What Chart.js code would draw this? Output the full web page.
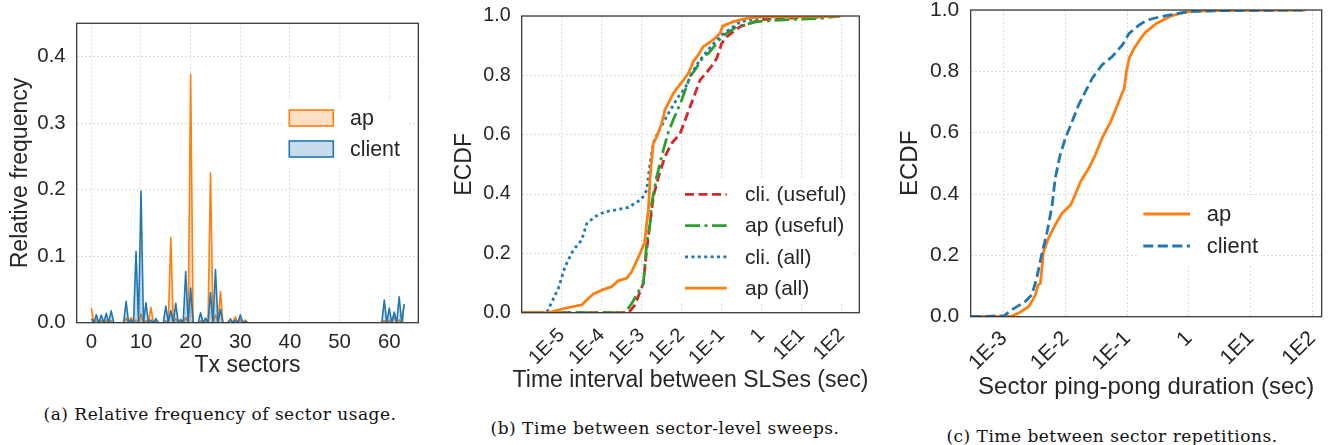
<!DOCTYPE html>
<html>
<head>
<meta charset="utf-8">
<title>Sector sweeps</title>
<script src="https://cdn.jsdelivr.net/npm/chart.js@4.4.1/dist/chart.umd.min.js"></script>
<style>
  html, body { margin: 0; padding: 0; background: #fff; }
  body { position: relative; width: 1331px; height: 445px; overflow: hidden; }
  canvas { position: absolute; top: 0; }
  .caption {
    position: absolute; width: 520px; text-align: center; white-space: nowrap;
    font-family: "DejaVu Serif", serif; font-size: 17px; letter-spacing: 0.5px;
    line-height: 20px; color: #111;
  }
</style>
</head>
<body>
<canvas id="usage" width="430" height="380" style="left:0"></canvas>
<canvas id="sweeps" width="440" height="400" style="left:440px"></canvas>
<canvas id="pingpong" width="441" height="410" style="left:890px"></canvas>
<div class="caption" style="left:-40px; top:404px">(a) Relative frequency of sector usage.</div>
<div class="caption" style="left:405px; top:418px">(b) Time between sector-level sweeps.</div>
<div class="caption" style="left:852px; top:426px">(c) Time between sector repetitions.</div>

<script>
// ---- (a) sector usage: relative frequency per half-sector bin, sectors 0..63
const binWidth = 0.5;
const sectorTicks = [0, 10, 20, 30, 40, 50, 60];
const freqTicks = [0, 0.1, 0.2, 0.3, 0.4];
const apFreq = [
  0.022, 0, 0.005, 0, 0.003, 0, 0.004, 0, 0.003, 0, 0, 0, 0, 0, 0.007, 0,
  0.008, 0, 0.004, 0, 0.013, 0, 0.003, 0, 0.023, 0, 0.003, 0, 0, 0, 0.003, 0,
  0.128, 0, 0.006, 0, 0.004, 0, 0.008, 0, 0.373, 0, 0, 0, 0.003, 0, 0.004, 0,
  0.225, 0, 0.012, 0, 0.047, 0, 0, 0, 0.006, 0, 0.009, 0, 0.005, 0, 0.004, 0,
  0, 0, 0, 0, 0, 0, 0, 0, 0, 0, 0, 0, 0, 0, 0, 0,
  0, 0, 0, 0, 0, 0, 0, 0, 0, 0, 0, 0, 0, 0, 0, 0,
  0, 0, 0, 0, 0, 0, 0, 0, 0, 0, 0, 0, 0, 0, 0, 0,
  0, 0, 0, 0, 0, 0, 0.003, 0, 0.004, 0, 0.009, 0, 0.004, 0, 0.026
];
const clientFreq = [
  0.006, 0, 0.012, 0, 0.011, 0, 0.014, 0, 0.018, 0, 0, 0, 0, 0, 0.032, 0,
  0.004, 0, 0.107, 0, 0.198, 0, 0.030, 0, 0.004, 0, 0.006, 0, 0, 0, 0.025, 0,
  0.018, 0, 0.029, 0, 0.005, 0, 0.077, 0, 0.052, 0, 0, 0, 0.015, 0, 0.007, 0,
  0.045, 0, 0.080, 0, 0.020, 0, 0, 0, 0.005, 0, 0.004, 0, 0.012, 0, 0.002, 0,
  0, 0, 0, 0, 0, 0, 0, 0, 0, 0, 0, 0, 0, 0, 0, 0,
  0, 0, 0, 0, 0, 0, 0, 0, 0, 0, 0, 0, 0, 0, 0, 0,
  0, 0, 0, 0, 0, 0, 0, 0, 0, 0, 0, 0, 0, 0, 0, 0,
  0, 0, 0, 0, 0, 0, 0.034, 0, 0.022, 0, 0.016, 0, 0.039, 0, 0.028
];

// ---- (b) ECDF of time between SLSes (seconds)
const slsTicks = [1e-5, 1e-4, 1e-3, 1e-2, 1e-1, 1, 1e1, 1e2];
const slsTickLabels = ['1E-5', '1E-4', '1E-3', '1E-2', '1E-1', '1', '1E1', '1E2'];
const ecdfTicks = [0, 0.2, 0.4, 0.6, 0.8, 1.0];

const cliUsefulT = [1e-6, 4.68e-4, 6.76e-4, 1.1e-3, 1.33e-3, 1.62e-3, 1.95e-3, 2.63e-3, 3.8e-3, 5.62e-3,
  9.12e-3, 1.62e-2, 2.88e-2, 5.13e-2, 7.5e-2, 0.1, 0.133, 0.288, 0.912, 3.47, 91];
const cliUsefulF = [0, 0, 0.026, 0.099, 0.211, 0.301, 0.391, 0.458, 0.526, 0.571,
  0.604, 0.694, 0.784, 0.824, 0.857, 0.908, 0.930, 0.964, 0.987, 0.992, 1.0];

const apUsefulT = [1e-6, 3.8e-4, 5.62e-4, 1.1e-3, 1.33e-3, 1.62e-3, 1.78e-3, 2.37e-3, 3.47e-3, 4.68e-3,
  6.17e-3, 1e-2, 1.62e-2, 2.15e-2, 3.47e-2, 4.65e-2, 7.5e-2, 0.1, 0.237, 0.75, 3.47, 28.8, 91];
const apUsefulF = [0, 0, 0.031, 0.099, 0.234, 0.301, 0.369, 0.458, 0.548, 0.610,
  0.650, 0.717, 0.796, 0.818, 0.863, 0.874, 0.908, 0.930, 0.964, 0.981, 0.987, 0.992, 1.0];

const cliAllT = [1e-6, 4.22e-6, 8.26e-6, 1.21e-5, 1.95e-5, 3.16e-5, 4.22e-5, 6.81e-5, 1.21e-4, 2.15e-4,
  4.65e-4, 1e-3, 1.33e-3, 1.62e-3, 1.95e-3, 2.51e-3, 4.65e-3, 8.26e-3, 1.21e-2, 1.78e-2,
  2.88e-2, 5.13e-2, 0.1, 0.288, 1, 10, 91];
const cliAllF = [0, 0, 0.082, 0.155, 0.211, 0.245, 0.300, 0.324, 0.340, 0.346,
  0.355, 0.383, 0.413, 0.503, 0.571, 0.605, 0.672, 0.728, 0.756, 0.807,
  0.852, 0.894, 0.936, 0.980, 0.995, 0.999, 1.0];

const apAllT = [1e-6, 4.68e-6, 1.21e-5, 3.16e-5, 4.22e-5, 6.17e-5, 1e-4, 1.78e-4, 2.61e-4, 4.22e-4,
  5.62e-4, 9.12e-4, 1.17e-3, 1.33e-3, 1.47e-3, 1.62e-3, 1.95e-3, 2.37e-3, 3.16e-3, 3.8e-3,
  6.17e-3, 1e-2, 1.47e-2, 1.95e-2, 2.61e-2, 3.47e-2, 4.65e-2, 6.76e-2, 9.12e-2, 0.106,
  0.195, 0.422, 1, 91];
const apAllF = [0, 0, 0.015, 0.026, 0.043, 0.063, 0.076, 0.088, 0.108, 0.116,
  0.138, 0.200, 0.234, 0.301, 0.346, 0.458, 0.571, 0.593, 0.638, 0.683,
  0.739, 0.776, 0.807, 0.846, 0.869, 0.897, 0.908, 0.925, 0.942, 0.966,
  0.981, 0.992, 0.997, 1.0];

// ---- (c) ECDF of sector ping-pong duration (seconds)
const pingTicks = [1e-3, 1e-2, 1e-1, 1, 1e1, 1e2];
const pingTickLabels = ['1E-3', '1E-2', '1E-1', '1', '1E1', '1E2'];

const apPingT = [2.88e-4, 1.33e-3, 1.7e-3, 2.19e-3, 2.51e-3, 2.82e-3, 3.24e-3, 3.55e-3, 3.89e-3, 4.07e-3,
  4.37e-3, 5.25e-3, 6.76e-3, 8.71e-3, 1.2e-2, 1.35e-2, 1.74e-2, 2.37e-2, 3.02e-2, 3.89e-2,
  5.37e-2, 6.92e-2, 8.91e-2, 9.66e-2, 0.107, 0.129, 0.166, 0.2, 0.302, 0.501,
  0.724, 1, 2.51, 77.6];
const apPingF = [0, 0.002, 0.011, 0.025, 0.033, 0.049, 0.071, 0.103, 0.109, 0.147,
  0.212, 0.255, 0.299, 0.337, 0.364, 0.386, 0.440, 0.484, 0.527, 0.582,
  0.636, 0.690, 0.745, 0.799, 0.842, 0.875, 0.908, 0.929, 0.957, 0.980,
  0.989, 0.995, 0.998, 1.0];

const clientPingT = [2.88e-4, 1e-3, 1.33e-3, 2.19e-3, 2.82e-3, 3.39e-3, 4.07e-3, 5.01e-3, 6.03e-3, 6.76e-3,
  8.13e-3, 9.89e-3, 1.27e-2, 1.62e-2, 2.09e-2, 2.69e-2, 3.89e-2, 5.69e-2, 8.32e-2, 0.107,
  0.155, 0.209, 0.342, 0.501, 1, 3.16, 77.6];
const clientPingF = [0, 0.003, 0.022, 0.049, 0.071, 0.125, 0.201, 0.277, 0.364, 0.451,
  0.527, 0.582, 0.636, 0.690, 0.734, 0.777, 0.821, 0.848, 0.886, 0.924,
  0.951, 0.967, 0.978, 0.984, 0.995, 0.998, 1.0];

// ---- shared styling
const FONT = "'Liberation Sans', Arial, Helvetica, sans-serif";
const INK = '#262626';
const GRID = '#d2d2d2';
const ORANGE = '#ff7f0e', BLUE = '#1f77b4', RED = '#d62728', GREEN = '#2ca02c';

Chart.defaults.font.family = FONT;
Chart.defaults.color = INK;
Chart.defaults.animation = false;

const pairs = (xs, ys) => xs.map((x, i) => ({ x, y: ys[i] }));

// frame, axis titles and an in-axes legend, matplotlib style
const panelDecor = {
  id: 'panelDecor',
  afterDatasetsDraw(chart, args, o) {
    const { ctx, chartArea: a } = chart;
    const L = o.legend;

    ctx.save();
    ctx.strokeStyle = '#333';
    ctx.lineWidth = 1.25;
    ctx.strokeRect(a.left, a.top, a.right - a.left, a.bottom - a.top);

    // legend with a white face and no edge
    ctx.fillStyle = '#fff';
    ctx.fillRect(L.box[0], L.box[1], L.box[2], L.box[3]);
    ctx.font = L.size + 'px ' + FONT;
    ctx.textAlign = 'left';
    ctx.textBaseline = 'middle';
    chart.data.datasets.forEach((ds, i) => {
      const y = L.top + i * L.rowGap;
      if (L.patch) {
        ctx.fillStyle = ds.backgroundColor;
        ctx.fillRect(L.x, y - L.patch / 2, L.sampleW, L.patch);
        ctx.strokeStyle = ds.borderColor;
        ctx.lineWidth = ds.borderWidth;
        ctx.strokeRect(L.x, y - L.patch / 2, L.sampleW, L.patch);
      } else {
        ctx.strokeStyle = ds.borderColor;
        ctx.lineWidth = ds.borderWidth;
        ctx.setLineDash(ds.borderDash || []);
        ctx.beginPath();
        ctx.moveTo(L.x, y);
        ctx.lineTo(L.x + L.sampleW, y);
        ctx.stroke();
        ctx.setLineDash([]);
      }
      ctx.fillStyle = INK;
      ctx.fillText(ds.label, L.textX, y + 1);
    });

    // axis titles
    ctx.fillStyle = INK;
    ctx.font = o.titleSize + 'px ' + FONT;
    ctx.textAlign = 'center';
    ctx.textBaseline = 'middle';
    ctx.fillText(o.xTitle, (a.left + a.right) / 2, o.xTitleY);
    ctx.translate(o.yTitleX, (a.top + a.bottom) / 2);
    ctx.rotate(-Math.PI / 2);
    ctx.fillText(o.yTitle, 0, 0);
    ctx.restore();
  }
};

function fixedBox(size, axis) {
  return axis === 'y'
    ? (s) => { s.width = size; s.paddingTop = 0; s.paddingBottom = 0; }
    : (s) => { s.height = size; s.paddingLeft = 0; s.paddingRight = 0; };
}

function setTicks(values) {
  return (s) => { s.ticks = values.map(v => ({ value: v })); };
}

function gridOpts() {
  return { color: GRID, lineWidth: 0.8, drawTicks: false };
}

function ecdfLine(label, t, f, color, dash, order) {
  return {
    label, data: pairs(t, f), borderColor: color, borderWidth: 2.8,
    borderDash: dash, borderCapStyle: 'butt', borderJoinStyle: 'round',
    pointRadius: 0, tension: 0, fill: false, order
  };
}

// ---- (a)
new Chart(document.getElementById('usage'), {
  type: 'line',
  data: {
    datasets: [
      { label: 'ap', data: apFreq.map((v, i) => ({ x: i * binWidth, y: v })),
        borderColor: ORANGE, backgroundColor: 'rgba(255,127,14,0.25)', borderWidth: 1.6,
        borderJoinStyle: 'round', fill: 'origin', pointRadius: 0, tension: 0, order: 2 },
      { label: 'client', data: clientFreq.map((v, i) => ({ x: i * binWidth, y: v })),
        borderColor: BLUE, backgroundColor: 'rgba(31,119,180,0.25)', borderWidth: 1.6,
        borderJoinStyle: 'round', fill: 'origin', pointRadius: 0, tension: 0, order: 1 }
    ]
  },
  options: {
    responsive: false,
    layout: { padding: { left: 0, top: 23.3, right: 11.7, bottom: 0 } },
    plugins: {
      legend: { display: false }, tooltip: { enabled: false },
      panelDecor: {
        xTitle: 'Tx sectors', xTitleY: 366, yTitle: 'Relative frequency', yTitleX: 21, titleSize: 23,
        legend: { patch: 16, x: 289.3, sampleW: 44, textX: 350, top: 118, rowGap: 31, size: 21.4,
                  box: [283, 100, 125, 68] }
      }
    },
    scales: {
      x: {
        type: 'linear', min: -2.95, max: 65.85,
        afterBuildTicks: setTicks(sectorTicks), afterFit: fixedBox(57.3, 'x'),
        ticks: { font: { size: 20.4 }, color: INK, padding: 7, maxRotation: 0, autoSkip: false,
                 callback: (v) => String(v) },
        grid: gridOpts(), border: { display: false, dash: [2, 2] }
      },
      y: {
        min: 0, max: 0.45,
        afterBuildTicks: setTicks(freqTicks), afterFit: fixedBox(76.7, 'y'),
        ticks: { font: { size: 20.4 }, color: INK, padding: 11, callback: (v) => v.toFixed(1) },
        grid: gridOpts(), border: { display: false, dash: [2, 2] }
      }
    }
  },
  plugins: [panelDecor]
});

// ---- (b)
new Chart(document.getElementById('sweeps'), {
  type: 'line',
  data: {
    datasets: [
      ecdfLine('cli. (useful)', cliUsefulT, cliUsefulF, RED, [9, 4.5], 4),
      ecdfLine('ap (useful)', apUsefulT, apUsefulF, GREEN, [15, 4.5, 3, 4.5], 3),
      ecdfLine('cli. (all)', cliAllT, cliAllF, BLUE, [3, 3.4], 2),
      ecdfLine('ap (all)', apAllT, apAllF, ORANGE, [], 1)
    ]
  },
  options: {
    responsive: false,
    layout: { padding: { left: 0, top: 16, right: 20.7, bottom: 0 } },
    plugins: {
      legend: { display: false }, tooltip: { enabled: false },
      panelDecor: {
        xTitle: 'Time interval between SLSes (sec)', xTitleY: 380.5, yTitle: 'ECDF', yTitleX: 24.7, titleSize: 23,
        legend: { x: 245, sampleW: 41.7, textX: 305, top: 194.3, rowGap: 31.3, size: 21,
                  box: [240, 179, 172, 124] }
      }
    },
    scales: {
      x: {
        type: 'logarithmic', min: 1e-6, max: Math.pow(10, 2.44),
        afterBuildTicks: setTicks(slsTicks), afterFit: fixedBox(87.3, 'x'),
        ticks: { font: { size: 19.7 }, color: INK, padding: 11, minRotation: 45, maxRotation: 45, autoSkip: false,
                 callback: (v, i) => slsTickLabels[i] },
        grid: gridOpts(), border: { display: false, dash: [2, 2] }
      },
      y: {
        min: 0, max: 1,
        afterBuildTicks: setTicks(ecdfTicks), afterFit: fixedBox(81.7, 'y'),
        ticks: { font: { size: 19.7 }, color: INK, padding: 11, callback: (v) => v.toFixed(1) },
        grid: gridOpts(), border: { display: false, dash: [2, 2] }
      }
    }
  },
  plugins: [panelDecor]
});

// ---- (c)
new Chart(document.getElementById('pingpong'), {
  type: 'line',
  data: {
    datasets: [
      ecdfLine('ap', apPingT, apPingF, ORANGE, [], 2),
      ecdfLine('client', clientPingT, clientPingF, BLUE, [10, 4.5], 1)
    ]
  },
  options: {
    responsive: false,
    layout: { padding: { left: 0, top: 10, right: 9.3, bottom: 0 } },
    plugins: {
      legend: { display: false }, tooltip: { enabled: false },
      panelDecor: {
        xTitle: 'Sector ping-pong duration (sec)', xTitleY: 387, yTitle: 'ECDF', yTitleX: 20.8, titleSize: 24,
        legend: { x: 253.3, sampleW: 46.7, textX: 316.7, top: 214, rowGap: 32, size: 22,
                  box: [249, 196, 124, 68] }
      }
    },
    scales: {
      x: {
        type: 'logarithmic', min: Math.pow(10, -3.54), max: Math.pow(10, 2.152),
        afterBuildTicks: setTicks(pingTicks), afterFit: fixedBox(93.3, 'x'),
        ticks: { font: { size: 21 }, color: INK, padding: 9.5, minRotation: 45, maxRotation: 45, autoSkip: false,
                 callback: (v, i) => pingTickLabels[i] },
        grid: gridOpts(), border: { display: false, dash: [2, 2] }
      },
      y: {
        min: 0, max: 1,
        afterBuildTicks: setTicks(ecdfTicks), afterFit: fixedBox(80.7, 'y'),
        ticks: { font: { size: 21 }, color: INK, padding: 11.4, callback: (v) => v.toFixed(1) },
        grid: gridOpts(), border: { display: false, dash: [2, 2] }
      }
    }
  },
  plugins: [panelDecor]
});
</script>
</body>
</html>
